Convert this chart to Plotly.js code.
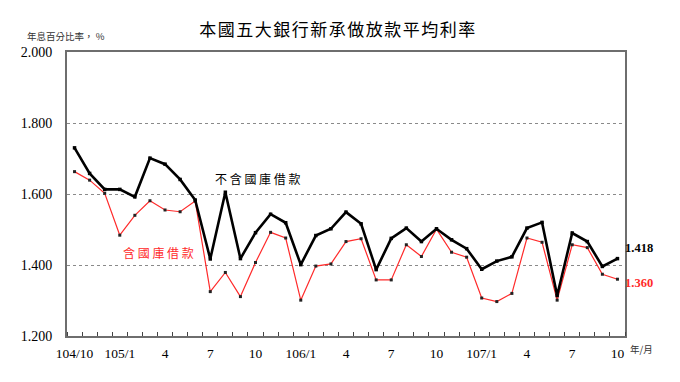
<!DOCTYPE html>
<html>
<head>
<meta charset="utf-8">
<script src="https://cdn.plot.ly/plotly-3.0.1.min.js"></script>
<style>
html,body{margin:0;padding:0;background:#fff;}
#chart{width:680px;height:382px;}
.gtitle{letter-spacing:1.5px;}
</style>
</head>
<body>
<div id="chart"></div>
<script>
// months 104/10 .. 107/10
var months = ["104/10","104/11","104/12","105/1","105/2","105/3","105/4","105/5","105/6","105/7","105/8","105/9","105/10","105/11","105/12","106/1","106/2","106/3","106/4","106/5","106/6","106/7","106/8","106/9","106/10","106/11","106/12","107/1","107/2","107/3","107/4","107/5","107/6","107/7","107/8","107/9","107/10"];
var exclTreasury = [1.730,1.658,1.613,1.613,1.592,1.701,1.684,1.641,1.583,1.417,1.605,1.418,1.491,1.543,1.519,1.401,1.483,1.502,1.549,1.516,1.387,1.475,1.504,1.466,1.502,1.471,1.446,1.388,1.411,1.423,1.504,1.520,1.314,1.490,1.466,1.396,1.418];
var inclTreasury = [1.663,1.639,1.602,1.484,1.540,1.581,1.555,1.550,1.580,1.325,1.379,1.311,1.407,1.492,1.476,1.301,1.397,1.403,1.466,1.474,1.358,1.358,1.457,1.424,1.501,1.436,1.422,1.307,1.297,1.320,1.476,1.464,1.301,1.457,1.449,1.374,1.360];
var tickIdx = [0,3,6,9,12,15,18,21,24,27,30,33,36];
var tickLabels = ["104/10","105/1","4","7","10","106/1","4","7","10","107/1","4","7","10"];
var yTicks = [1.2,1.4,1.6,1.8,2.0];
var yTickLabels = ["1.200","1.400","1.600","1.800","2.000"];

var xIdx = months.map(function(m,i){return i;});
var serif = "Liberation Serif";
var cjk = "Noto Sans CJK TC";

var traces = [
  {x:xIdx, y:inclTreasury, type:'scatter', mode:'lines+markers', name:'含國庫借款',
   text:months, line:{color:'#ff2a2a', width:1.2}, marker:{symbol:'square', size:3, color:'#222'}},
  {x:xIdx, y:exclTreasury, type:'scatter', mode:'lines+markers', name:'不含國庫借款',
   text:months, line:{color:'#000', width:2.6}, marker:{symbol:'square', size:3.5, color:'#000'}}
];

var layout = {
  width:680, height:382,
  margin:{l:67, r:55, t:52, b:46},
  paper_bgcolor:'#fff', plot_bgcolor:'#fff',
  showlegend:false,
  title:{text:'本國五大銀行新承做放款平均利率', x:0.497, xanchor:'center', y:0.922, yanchor:'middle',
         font:{family:cjk, size:17, color:'#000'}},
  xaxis:{range:[-0.5,36.5], tickmode:'array', tickvals:tickIdx, ticktext:tickLabels,
         ticks:'', showgrid:false, zeroline:false, showline:true, mirror:true,
         linecolor:'#6e6e6e', linewidth:2,
         tickfont:{family:serif, size:13.5, color:'#000'}, ticklabelstandoff:4,
         minor:{tickmode:'linear', tick0:0.5, dtick:1, ticks:'inside', ticklen:4, tickcolor:'#444', tickwidth:1, showgrid:false}},
  yaxis:{range:[1.2,2.0], tickmode:'array', tickvals:yTicks, ticktext:yTickLabels,
         ticks:'', showgrid:true, gridcolor:'#8a8a8a', griddash:'dot', gridwidth:1,
         zeroline:false, showline:true, mirror:true, linecolor:'#6e6e6e', linewidth:2,
         tickfont:{family:serif, size:14, color:'#000'}, ticklabelstandoff:10},
  annotations:[
    {text:'年息百分比率， %', xref:'paper', yref:'paper', x:-0.076, y:1.055, xanchor:'left', yanchor:'middle',
     showarrow:false, font:{family:cjk, size:9.5, color:'#333'}},
    {text:'年/月', xref:'paper', yref:'paper', x:1.005, y:-0.045, xanchor:'left', yanchor:'middle',
     showarrow:false, font:{family:cjk, size:9.5, color:'#333'}},
    {text:'不 含 國 庫 借 款', xref:'x', yref:'y', x:12.1, y:1.645, xanchor:'center', yanchor:'middle',
     showarrow:false, font:{family:cjk, size:12, color:'#000'}},
    {text:'含 國 庫 借 款', xref:'x', yref:'y', x:5.6, y:1.434, xanchor:'center', yanchor:'middle',
     showarrow:false, font:{family:cjk, size:12, color:'#ff2a2a'}},
    {text:'<b>'+exclTreasury[36].toFixed(3)+'</b>', xref:'paper', yref:'y', x:0.997, y:1.4465, xanchor:'left', yanchor:'middle',
     showarrow:false, font:{family:serif, size:12.5, color:'#000'}},
    {text:'<b>'+inclTreasury[36].toFixed(3)+'</b>', xref:'paper', yref:'y', x:0.997, y:1.350, xanchor:'left', yanchor:'middle',
     showarrow:false, font:{family:serif, size:12.5, color:'#ff2a2a'}}
  ]
};

Plotly.newPlot('chart', traces, layout, {displayModeBar:false, staticPlot:true});
</script>
</body>
</html>
